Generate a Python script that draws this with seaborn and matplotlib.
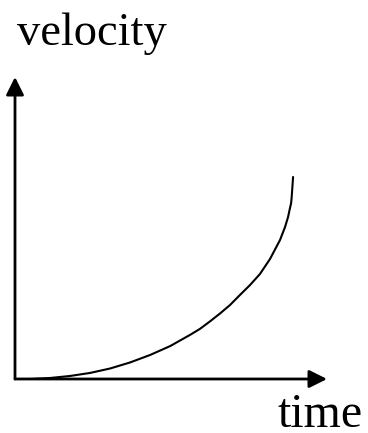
import matplotlib
matplotlib.use("Agg")
import matplotlib.pyplot as plt
import seaborn as sns
import pandas as pd

# values
time = [0.0, 0.54, 1.26, 1.98, 2.70, 3.42, 4.14, 4.86, 5.58, 6.29, 6.65, 7.01, 7.37,
        7.73, 8.09, 8.45, 8.81, 9.17, 9.53, 9.71, 9.82, 9.89, 9.93, 9.95, 9.98, 10.0]
velocity = [0.0, 0.0, 0.05, 0.15, 0.30, 0.52, 0.82, 1.19, 1.63, 2.18, 2.48, 2.85, 3.24,
            3.66, 4.16, 4.65, 5.20, 5.94, 6.88, 7.52, 8.02, 8.47, 8.71, 9.01, 9.60, 10.0]
x_label = "time"
y_label = "velocity"

df = pd.DataFrame({"time": time, "velocity": velocity})

sns.set_style("white")
plt.rcParams['font.family'] = ['Liberation Serif', 'DejaVu Serif']

W, H = 368, 433
fig = plt.figure(figsize=(W / 100, H / 100), dpi=100)
# axes box runs from the origin to the arrow tips
ax = fig.add_axes([15 / W, (H - 379) / H, (327 - 15) / W, (379 - 77) / H])

sns.lineplot(data=df, x="time", y="velocity", color="black", lw=1.5,
             estimator=None, sort=False, ax=ax)
ax.set_xlim(0, 11.22)
ax.set_ylim(0, 14.95)

for s in ax.spines.values():
    s.set_visible(False)
ax.set_xticks([])
ax.set_yticks([])
ax.set_xlabel("")
ax.set_ylabel("")

arrow = dict(arrowstyle="-|>,head_length=0.4,head_width=0.2", color="black",
             lw=2, mutation_scale=27, shrinkA=0, shrinkB=0)
ax.annotate("", xy=(1, 0), xytext=(0, 0), xycoords="axes fraction", arrowprops=arrow)
ax.annotate("", xy=(0, 1), xytext=(0, 0), xycoords="axes fraction", arrowprops=arrow)

fig.text(17 / W, 1 - 45 / H, y_label, fontsize=33.5, color="black",
         ha="left", va="baseline")
fig.text(363 / W, 1 - 427 / H, x_label, fontsize=34.5, color="black",
         ha="right", va="baseline")

plt.savefig("out.png", dpi=100)
